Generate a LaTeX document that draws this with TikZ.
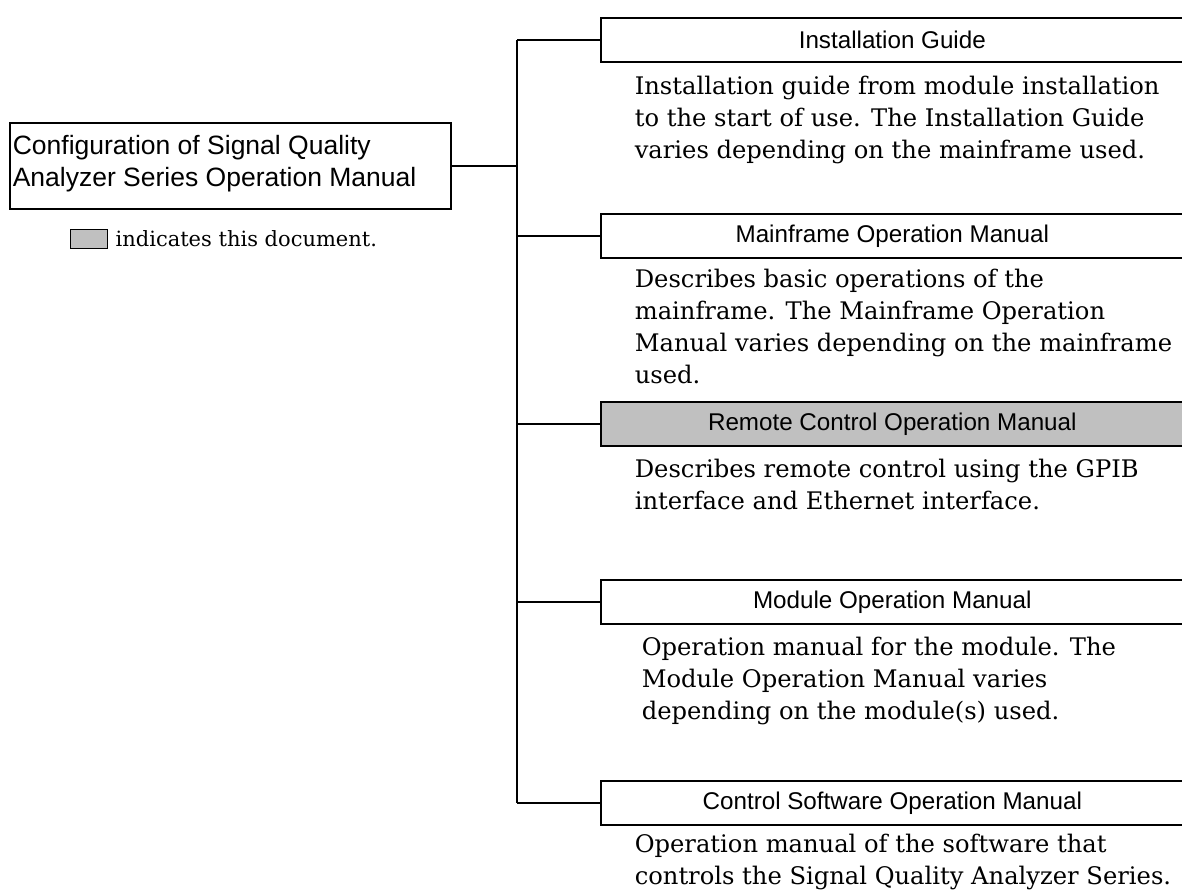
\documentclass[tikz,border=0pt]{standalone}
\usepackage{fontspec}
\usetikzlibrary{positioning}
\newfontfamily\headfont{Liberation Sans}
\newfontfamily\descfont{DejaVu Serif}
\definecolor{thisdoc}{RGB}{192,192,192}
\begin{document}
\begin{tikzpicture}[x=1pt,y=-1pt,line width=1.6pt,
    head/.style={draw,minimum width=583pt,minimum height=44pt,inner sep=0pt,anchor=north west,
        font=\headfont\fontsize{24.2}{28}\selectfont},
    desc/.style={anchor=north west,inner sep=0pt,align=left,font=\descfont\fontsize{24.2}{32}\selectfont}]
    \useasboundingbox (0,0) rectangle (1182,893);
    \clip (0,0) rectangle (1182,893);

    \node[draw,minimum width=441pt,minimum height=86pt,inner sep=0pt,anchor=north west] (cfg) at (9,122) {};
    \node[anchor=north west,inner sep=0pt,align=left,font=\headfont\fontsize{26.5}{32}\selectfont] (cfgtext) at (12,134)
        {Configuration of Signal Quality\\Analyzer Series Operation Manual};

    \node[draw,fill=thisdoc,line width=0.8pt,minimum width=37pt,minimum height=19pt,inner sep=0pt,anchor=north west] (mark) at (70,229) {};
    \node[right=7pt of mark,inner sep=0pt,font=\descfont\fontsize{21}{32}\selectfont] (marktext) {indicates this document.};

    \node[head] (install) at (600,17) {Installation Guide};
    \node[desc] (installdesc) at (634,75)
        {Installation guide from module installation\\to the start of use. The Installation Guide\\varies depending on the mainframe used.};

    \node[head] (mainframe) at (600,213) {Mainframe Operation Manual};
    \node[desc] (mainframedesc) at (634,268)
        {Describes basic operations of the\\mainframe. The Mainframe Operation\\Manual varies depending on the mainframe\\used.};

    \node[head,fill=thisdoc] (remote) at (600,401) {Remote Control Operation Manual};
    \node[desc] (remotedesc) at (634,458)
        {Describes remote control using the GPIB\\interface and Ethernet interface.};

    \node[head] (module) at (600,579) {Module Operation Manual};
    \node[desc] (moduledesc) at (641,636)
        {Operation manual for the module. The\\Module Operation Manual varies\\depending on the module(s) used.};

    \node[head] (software) at (600,780) {Control Software Operation Manual};
    \node[desc] (softwaredesc) at (634,833)
        {Operation manual of the software that\\controls the Signal Quality Analyzer Series.};

    \coordinate (trunk) at (517,0);
    \draw (cfg.east) -- (cfg.east -| trunk);
    \draw (install.west -| trunk) -- (software.west -| trunk);
    \draw (install.west -| trunk) -- (install.west);
    \draw (mainframe.west -| trunk) -- (mainframe.west);
    \draw (remote.west -| trunk) -- (remote.west);
    \draw (module.west -| trunk) -- (module.west);
    \draw (software.west -| trunk) -- (software.west);
\end{tikzpicture}
\end{document}
